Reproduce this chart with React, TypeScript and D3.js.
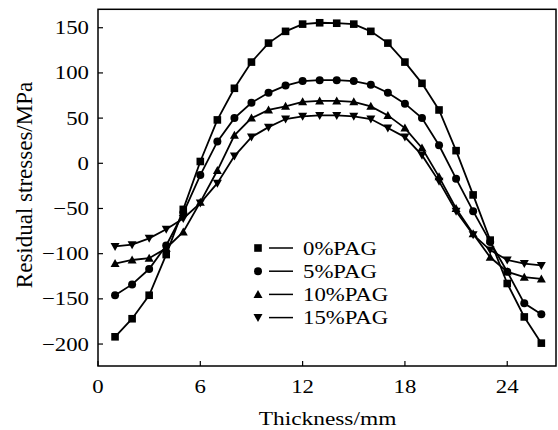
import React from "react";
import * as d3 from "d3";

const thickness = [1,2,3,4,5,6,7,8,9,10,11,12,13,14,15,16,17,18,19,20,21,22,23,24,25,26];
const pag0 = [-192,-172,-146,-101,-51,2,48,83,112,133,146,154,155.5,155,154,146,133,112,88.5,59,14,-35,-85,-133,-170,-199];
const pag5 = [-146,-134,-117,-91,-55,-13,24,50,67,78,86,91,92,92,91,87,78,66,50,20,-17,-53,-87,-120,-155,-167];
const pag10 = [-111,-107,-105,-94,-76,-43,-8,31,50,59,63,68,69,69,68,63,53,39,17,-15,-50,-78,-104,-120,-126,-128];
const pag15 = [-92,-90,-83,-73,-61,-44,-22,8,29,40,49,52,53,53,52,49,39,29,9,-20,-53,-79,-96,-107,-111,-113];
const seriesNames = ["0%PAG", "5%PAG", "10%PAG", "15%PAG"];
const xTicks = [0, 6, 12, 18, 24];
const yTicks = [-200, -150, -100, -50, 0, 50, 100, 150];

const FONT = "'Liberation Serif', 'Times New Roman', serif";
const SX = 1.2;

function Marker({ kind, x, y }: { kind: number; x: number; y: number }) {
  const s = 3.8;
  if (kind === 0) return <rect x={x - s} y={y - s} width={2 * s} height={2 * s} fill="#000" />;
  if (kind === 1) return <circle cx={x} cy={y} r={4} fill="#000" />;
  if (kind === 2)
    return <path d={`M${x},${y - 4.5}L${x + 4.5},${y + 3.5}L${x - 4.5},${y + 3.5}Z`} fill="#000" />;
  return <path d={`M${x},${y + 4.5}L${x + 4.5},${y - 3.5}L${x - 4.5},${y - 3.5}Z`} fill="#000" />;
}

export default function App() {
  const W = 558, H = 430;
  const left = 98, right = 556, top = 9.3, bottom = 366;
  const x = d3.scaleLinear().domain([0, 26.86]).range([left, right]);
  const y = d3.scaleLinear().domain([-224.3, 170.4]).range([bottom, top]);
  const all = [pag0, pag5, pag10, pag15];
  const line = d3
    .line<number>()
    .x((_, i) => x(thickness[i]))
    .y((d) => y(d));

  const legX = 258, legY0 = 248, legDy = 23.2;

  return (
    <svg width={W} height={H} style={{ position: "absolute", left: 0, top: 0, background: "#fff" }}>
      <rect x={0} y={0} width={W} height={H} fill="#fff" />
      <rect x={left} y={top} width={right - left} height={bottom - top} fill="none" stroke="#000" strokeWidth={1.5} />
      {xTicks.map((t) => (
        <g key={"xt" + t}>
          <line x1={x(t)} x2={x(t)} y1={bottom} y2={bottom - 5} stroke="#000" strokeWidth={1.2} />
          <text
            transform={`translate(${x(t)},${393}) scale(${SX},1)`}
            textAnchor="middle"
            fontFamily={FONT}
            fontSize={19}
            fill="#000"
          >
            {t}
          </text>
        </g>
      ))}
      {yTicks.map((t) => (
        <g key={"yt" + t}>
          <line x1={left} x2={left + 5} y1={y(t)} y2={y(t)} stroke="#000" strokeWidth={1.2} />
          <text
            transform={`translate(${89},${y(t) + 6.5}) scale(${SX},1)`}
            textAnchor="end"
            fontFamily={FONT}
            fontSize={19}
            fill="#000"
          >
            {t < 0 ? "\u2212" + Math.abs(t) : t}
          </text>
        </g>
      ))}
      {all.map((vals, k) => (
        <g key={"s" + k}>
          <path d={line(vals) || ""} fill="none" stroke="#000" strokeWidth={1.8} />
          {vals.map((v, i) => (
            <Marker key={i} kind={k} x={x(thickness[i])} y={y(v)} />
          ))}
        </g>
      ))}
      {seriesNames.map((n, k) => {
        const cy = legY0 + k * legDy;
        return (
          <g key={"l" + k}>
            <Marker kind={k} x={legX} y={cy} />
            <line x1={269} x2={293} y1={cy} y2={cy} stroke="#000" strokeWidth={1.5} />
            <text
              transform={`translate(${303},${cy + 6.5}) scale(${SX},1)`}
              fontFamily={FONT}
              fontSize={19}
              fill="#000"
            >
              {n}
            </text>
          </g>
        );
      })}
      <text
        transform={`translate(${(left + right) / 2 + 0.5},${424.5}) scale(${SX},1)`}
        textAnchor="middle"
        fontFamily={FONT}
        fontSize={19.5}
        fill="#000"
      >
        Thickness/mm
      </text>
      <text
        transform={`translate(${32},${185}) rotate(-90)`}
        textAnchor="middle"
        fontFamily={FONT}
        fontSize={23}
        fill="#000"
      >
        Residual stresses/MPa
      </text>
    </svg>
  );
}
